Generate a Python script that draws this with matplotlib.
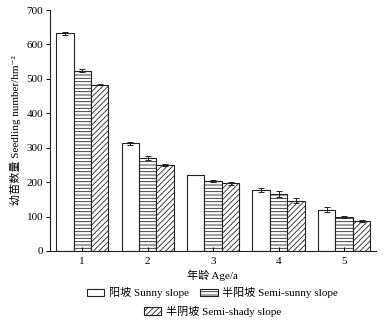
import numpy as np
import matplotlib
matplotlib.use('Agg')
import matplotlib.pyplot as plt

plt.rcParams['font.family'] = ['Liberation Serif', 'Noto Sans CJK SC', 'DejaVu Sans']
plt.rcParams['hatch.linewidth'] = 0.6

# seedling number per age class
ages = [1, 2, 3, 4, 5]
sunny = [632, 313, 221, 177, 120]
sunny_err = [5, 4, 1, 5, 8]
semi_sunny = [524, 270, 203, 165, 99]
semi_sunny_err = [4, 7, 3, 8, 2]
semi_shady = [483, 250, 197, 146, 87]
semi_shady_err = [2, 4, 4, 7, 2]
labels = ['阳坡 Sunny slope', '半阳坡 Semi-sunny slope', '半阴坡 Semi-shady slope']

fig = plt.figure(figsize=(3.86, 3.23), dpi=100)
ax = fig.add_axes([0.13, 0.223, 0.843, 0.746])

x = np.array(ages)
w = 0.267
ek = dict(ecolor='#222222', elinewidth=0.7, capsize=2.2, capthick=0.7)
b1 = ax.bar(x - w, sunny, w, yerr=sunny_err, color='white', edgecolor='#222222',
            linewidth=0.8, error_kw=ek, label=labels[0])
b2 = ax.bar(x, semi_sunny, w, yerr=semi_sunny_err, color='white', edgecolor='#222222',
            linewidth=0.8, hatch='-----', error_kw=ek, label=labels[1])
b3 = ax.bar(x + w, semi_shady, w, yerr=semi_shady_err, color='white', edgecolor='#222222',
            linewidth=0.8, hatch='//////', error_kw=ek, label=labels[2])

ax.set_xlim(0.51, 5.48)
ax.set_ylim(0, 700)
ax.set_xticks(ages)
ax.set_yticks(range(0, 701, 100))
ax.spines['top'].set_visible(False)
ax.spines['right'].set_visible(False)
for s in ['left', 'bottom']:
    ax.spines[s].set_linewidth(0.8)
    ax.spines[s].set_color('#222222')
ax.tick_params(axis='y', direction='out', length=3, width=0.7, labelsize=8, pad=2)
ax.tick_params(axis='x', direction='in', length=3, width=0.7, labelsize=8, pad=4)

ax.set_xlabel('年龄 Age/a', fontsize=8, labelpad=3)
ax.set_ylabel('幼苗数量 Seedling number/hm⁻²', fontsize=8, labelpad=4)

leg_kw = dict(loc='center', frameon=False, fontsize=8, handlelength=1.6,
              handleheight=0.7, handletextpad=0.4)
fig.legend(handles=[b1, b2], bbox_to_anchor=(0.55, 0.093), ncol=2,
           columnspacing=1.0, **leg_kw)
fig.legend(handles=[b3], bbox_to_anchor=(0.55, 0.037), **leg_kw)

fig.savefig('out.png', dpi=100)
